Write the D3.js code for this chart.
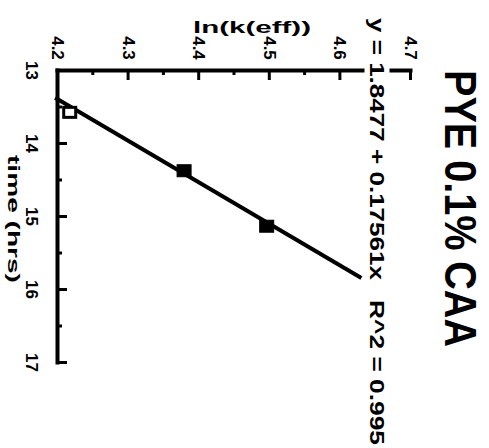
<!DOCTYPE html>
<html>
<head>
<meta charset="utf-8">
<script src="https://cdn.jsdelivr.net/npm/d3@7"></script>
<style>
  body { margin: 0; background: #fff; }
  svg { display: block; }
</style>
</head>
<body>
<div id="chart"></div>
<script>
	var times = [13.58, 14.38, 15.14];
	var lnK = [4.218, 4.380, 4.497];
	var fitIntercept = 1.8477;
	var fitSlope = 0.17561;
	var rSquared = 0.995;
	var fitRange = [13.38, 15.85];
	var lnTicks = [4.2, 4.3, 4.4, 4.5, 4.6, 4.7];
	var lnMinor = [4.25, 4.35, 4.45, 4.55, 4.65];
	var timeTicks = [13, 14, 15, 16, 17];
	var timeMinor = [13.5, 14.5, 15.5, 16.5];
	var titleText = 'PYE 0.1% CAA';
	var lnLabel = 'ln(k(eff))';
	var timeLabel = 'time (hrs)';

(function () {
	var width = 489, height = 448;
	var ink = '#000';
	var font = '"Liberation Sans", Arial, sans-serif';
	var narrow = '"Liberation Sans Narrow", "Liberation Sans", sans-serif';

	var svg = d3.select('#chart').append('svg')
		.attr('width', width).attr('height', height);
	svg.append('rect').attr('width', width).attr('height', height).attr('fill', '#fff');

	// chart is printed turned a quarter clockwise: ln axis runs along the top, time runs down
	var x = d3.scaleLinear().domain([4.2, 4.7]).range([57, 410]);
	var y = d3.scaleLinear().domain([13, 17]).range([70, 362]);

	function styleAxis(g) {
		g.select('.domain').attr('stroke', ink).attr('stroke-width', 4).attr('stroke-linecap', 'square');
		g.selectAll('.tick line').attr('stroke', ink).attr('stroke-width', 3);
		g.selectAll('.tick text')
			.attr('fill', ink)
			.attr('font-family', font)
			.attr('font-size', 17)
			.attr('font-weight', 'bold');
	}

	// top axis (ln)
	var lnAxis = svg.append('g').attr('transform', 'translate(0,' + y(13) + ')')
		.call(d3.axisTop(x).tickValues(lnTicks).tickSize(-10).tickSizeOuter(0).tickFormat(d3.format('.1f')))
		.call(styleAxis);
	lnAxis.selectAll('.tick text')
		.attr('y', null).attr('dy', null)
		.attr('text-anchor', 'middle')
		.attr('dominant-baseline', 'central')
		.attr('transform', 'translate(0,-22) rotate(90)');
	svg.append('g').attr('transform', 'translate(0,' + y(13) + ')')
		.call(d3.axisTop(x).tickValues(lnMinor).tickSize(-5).tickFormat(''))
		.call(g => g.select('.domain').remove())
		.call(g => g.selectAll('line').attr('stroke', ink).attr('stroke-width', 3));

	// left axis (time)
	var timeAxis = svg.append('g').attr('transform', 'translate(' + x(4.2) + ',0)')
		.call(d3.axisLeft(y).tickValues(timeTicks).tickSize(-10).tickSizeOuter(0).tickFormat(d3.format('d')))
		.call(styleAxis);
	timeAxis.selectAll('.tick text')
		.attr('x', null).attr('dy', null)
		.attr('text-anchor', 'middle')
		.attr('dominant-baseline', 'central')
		.attr('transform', 'translate(-26,0) rotate(90)');
	svg.append('g').attr('transform', 'translate(' + x(4.2) + ',0)')
		.call(d3.axisLeft(y).tickValues(timeMinor).tickSize(-5).tickFormat(''))
		.call(g => g.select('.domain').remove())
		.call(g => g.selectAll('line').attr('stroke', ink).attr('stroke-width', 3));

	// axis titles
	svg.append('text')
		.attr('x', 193).attr('y', 33)
		.attr('font-family', font).attr('font-weight', 'bold').attr('font-size', 17)
		.attr('textLength', 118).attr('lengthAdjust', 'spacingAndGlyphs')
		.attr('fill', ink)
		.text(lnLabel);
	svg.append('text')
		.attr('transform', 'translate(13,219) rotate(90)')
		.attr('text-anchor', 'middle').attr('dominant-baseline', 'central')
		.attr('font-family', font).attr('font-weight', 'bold').attr('font-size', 17)
		.attr('textLength', 128).attr('lengthAdjust', 'spacingAndGlyphs')
		.attr('fill', ink)
		.text(timeLabel);

	// fitted line
	var fitLine = d3.line()
		.x(t => x(fitIntercept + fitSlope * t))
		.y(t => y(t));
	svg.append('path')
		.datum(fitRange)
		.attr('d', fitLine)
		.attr('fill', 'none').attr('stroke', ink).attr('stroke-width', 4);

	// points, the first one hollow
	var points = times.map((t, i) => ({ t: t, v: lnK[i], open: i === 0 }));
	svg.append('g').selectAll('rect')
		.data(points)
		.enter().append('rect')
		.attr('x', d => x(d.v) - (d.open ? 6 : 7))
		.attr('y', d => y(d.t) - (d.open ? 5 : 6))
		.attr('width', d => d.open ? 12 : 14)
		.attr('height', d => d.open ? 10 : 12)
		.attr('fill', d => d.open ? '#fff' : ink)
		.attr('stroke', ink)
		.attr('stroke-width', d => d.open ? 3 : 1);

	// regression text, with white backing that breaks the top axis
	var eqLines = [
		{ text: 'y = ' + fitIntercept + ' + ' + fitSlope + 'x', start: 18, length: 262 },
		{ text: 'R^2 = ' + rSquared, start: 300, length: 145 }
	];
	var eq = svg.append('g').attr('transform', 'translate(377,0) rotate(90)');
	eqLines.forEach(function(line) {
		var holder = eq.append('g');
		var txt = holder.append('text')
			.attr('x', line.start).attr('y', 0)
			.attr('dominant-baseline', 'central')
			.attr('font-family', narrow).attr('font-size', 21).attr('font-weight', 'bold')
			.attr('textLength', line.length).attr('lengthAdjust', 'spacingAndGlyphs')
			.attr('fill', ink)
			.text(line.text);
		var box = txt.node().getBBox();
		holder.insert('rect', 'text')
			.attr('x', box.x - 2).attr('y', box.y - 1)
			.attr('width', box.width + 4).attr('height', box.height + 2)
			.attr('fill', '#fff');
	});

	// title
	svg.append('text')
		.attr('transform', 'translate(460,70) rotate(90)')
		.attr('dominant-baseline', 'central')
		.attr('font-family', font).attr('font-weight', 'bold').attr('font-size', 45)
		.attr('textLength', 277).attr('lengthAdjust', 'spacingAndGlyphs')
		.attr('fill', ink)
		.text(titleText);
})();
</script>
</body>
</html>
